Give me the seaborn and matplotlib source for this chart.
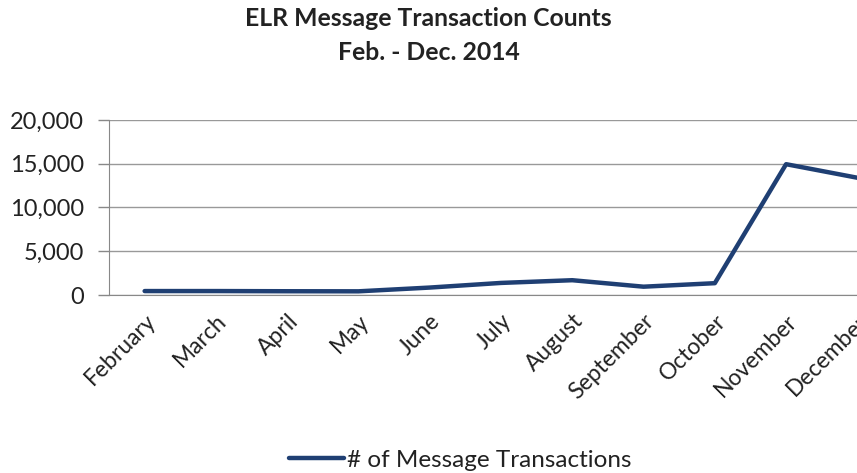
import matplotlib
matplotlib.use("Agg")
import matplotlib.pyplot as plt
import seaborn as sns
import pandas as pd
import numpy as np
from matplotlib.ticker import FuncFormatter

months = ["February", "March", "April", "May", "June", "July", "August",
          "September", "October", "November", "December"]
transactions = [450, 450, 430, 420, 850, 1380, 1690, 950, 1350, 14950, 13400]

sns.set_style("white")
plt.rcParams['font.family'] = ['Lato', 'DejaVu Sans']

df = pd.DataFrame({'Month': months, 'Transactions': transactions})
df['pos'] = np.arange(len(months))

fig = plt.figure(figsize=(8.57, 4.73), dpi=100)
# plot area runs past the right edge of the picture, like the cropped original
ax = fig.add_axes([109 / 857, 1 - 295 / 473, (893 - 109) / 857, 175 / 473])

sns.lineplot(data=df, x='pos', y='Transactions', ax=ax, color='#1F3F73',
             linewidth=3.2, label='# of Message Transactions', legend=False)

ax.set_ylim(0, 20000)
ax.set_yticks([0, 5000, 10000, 15000, 20000])
ax.yaxis.set_major_formatter(FuncFormatter(lambda v, p: f"{int(v):,}"))
ax.set_xlim(-0.5, len(months) - 0.5)
ax.set_xticks(df['pos'])
ax.set_xticklabels(months, rotation=45, ha='right', rotation_mode='anchor')
ax.set_xticks(np.arange(-0.5, len(months)), minor=True)
ax.tick_params(axis='x', which='major', length=0, pad=11, labelsize=16.5, colors='#222222')
ax.tick_params(axis='x', which='minor', length=7, width=1, color='#888888', direction='out')
ax.tick_params(axis='y', length=8, width=1, color='#888888', direction='out',
               labelsize=17, colors='#222222', left=True, pad=10)
ax.grid(axis='y', color='#999999', linewidth=1)
for s in ['top', 'right']:
    ax.spines[s].set_visible(False)
ax.spines['left'].set_color('#888888')
ax.spines['bottom'].set_color('#888888')
ax.set_xlabel('')
ax.set_ylabel('')

fig.text(0.5, 1 - 19 / 473, 'ELR Message Transaction Counts', ha='center', va='center',
         fontsize=17.8, fontweight='bold', color='#222222')
fig.text(0.5, 1 - 52 / 473, 'Feb. - Dec. 2014', ha='center', va='center',
         fontsize=17.8, fontweight='bold', color='#222222')

handles, labels = ax.get_legend_handles_labels()
fig.legend(handles, labels, loc='center', bbox_to_anchor=(460 / 857, 1 - 460 / 473),
           frameon=False, fontsize=17.5, handlelength=2.3, handletextpad=0.1,
           labelcolor='#222222')

fig.savefig('out.png', dpi=100)
